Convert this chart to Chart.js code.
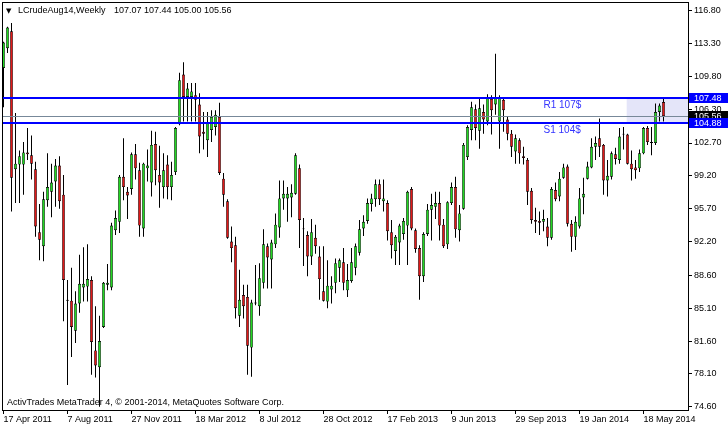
<!DOCTYPE html>
<html><head><meta charset="utf-8">
<script src="https://cdn.jsdelivr.net/npm/chart.js@4/dist/chart.umd.min.js"></script>
<style>html,body{margin:0;padding:0;background:#fff;overflow:hidden}canvas{display:block}</style>
</head><body>
<canvas id="c" width="728" height="428"></canvas>
<script>
// ---- data (weekly candles, index 0 = week of 17 Apr 2011) ----
const opens = [
110.7,112.8,114.6,99.9,100.4,100.4,101.7,101.4,99.9,93.2,
91.7,96.6,97.5,98.6,100.3,97.2,86.0,85.9,82.7,85.6,
87.3,87.4,88.1,80.6,78.8,83.1,87.6,87.3,93.4,94.3,
99.1,97.5,97.8,101.5,99.8,93.6,100.0,98.5,102.6,99.3,
98.0,100.4,98.0,99.6,104.7,110.0,107.6,107.6,107.8,106.8,
103.9,103.0,104.1,104.4,105.5,98.9,96.5,92.2,91.8,84.3,
86.5,86.3,80.9,85.7,85.3,87.8,91.7,90.3,91.9,93.7,
96.8,96.8,96.9,97.3,100.0,93.6,92.9,90.6,92.6,90.6,
86.9,85.8,87.1,87.8,89.4,90.0,87.0,88.0,89.4,91.0,
93.6,94.4,96.2,96.7,98.3,96.5,96.3,93.2,91.2,92.1,
93.0,93.9,97.8,93.4,91.5,88.5,93.0,95.6,95.9,96.3,
94.0,91.9,96.3,98.0,93.4,95.7,101.2,104.1,106.3,104.0,
106.0,105.0,107.4,106.8,105.0,107.3,105.2,103.7,101.8,103.0,
101.3,100.9,97.6,94.5,94.4,94.3,93.8,92.6,97.7,97.0,
99.0,100.2,94.1,92.7,93.8,96.9,98.9,100.1,102.3,103.2,
102.5,98.7,99.1,101.5,100.9,103.6,103.6,100.5,100.1,100.0,
101.6,104.3,102.8,102.7,106.0,107.07];
const highs = [
113.5,115.1,115.5,105.9,101.9,102.8,104.3,103.5,100.7,96.2,
97.5,101.6,100.5,101.0,101.3,99.3,88.1,89.4,86.9,90.8,
91.6,91.9,88.5,85.3,84.3,87.9,89.8,94.2,95.5,99.3,
103.2,98.0,101.7,102.6,100.6,100.6,102.0,104.0,103.9,102.4,
101.6,101.4,100.7,104.4,110.2,111.3,109.1,109.1,109.1,108.0,
106.0,106.0,106.2,106.2,107.0,99.5,96.7,93.8,92.7,89.2,
87.6,87.6,86.0,89.7,89.9,93.5,92.0,92.4,95.2,98.7,
98.7,98.0,98.3,101.6,100.4,94.7,93.3,94.6,94.0,91.7,
91.7,90.2,88.5,90.4,90.4,91.5,89.8,91.5,92.0,94.5,
95.0,96.8,97.3,98.8,98.8,98.8,96.6,94.5,92.9,94.1,
94.7,97.6,98.0,93.6,91.8,93.2,96.2,97.3,97.5,97.5,
94.6,96.5,98.5,99.1,96.1,102.7,104.6,107.1,106.8,107.6,
106.8,107.9,107.8,112.2,107.8,107.6,105.5,104.1,103.6,103.2,
102.3,101.1,97.9,95.8,95.4,95.6,94.7,98.0,98.5,99.6,
100.5,100.4,94.5,94.9,97.9,99.0,100.7,103.2,103.4,105.3,
102.6,100.9,101.8,102.2,104.3,104.4,103.7,101.9,100.9,102.0,
104.4,104.5,104.4,106.9,106.9,107.44];
const lows = [
106.5,112.3,95.4,96.3,96.3,97.2,100.9,98.8,92.7,90.2,
90.1,95.9,94.8,95.9,95.7,83.7,76.9,79.9,81.4,84.6,
85.8,85.8,78.0,77.7,74.6,83.0,87.0,87.0,92.9,93.1,
96.6,94.6,97.2,98.8,92.7,92.7,98.6,97.0,98.2,95.8,
96.8,96.7,96.6,99.3,104.6,105.0,105.0,105.0,105.0,101.6,
102.0,101.2,102.8,103.5,99.3,95.9,92.5,90.0,84.0,83.1,
84.0,78.0,77.8,85.4,84.3,87.2,87.2,87.2,91.5,92.6,
95.6,94.3,94.8,97.2,91.5,89.6,88.5,89.7,90.9,86.0,
85.8,85.1,85.6,86.7,87.9,87.0,86.3,87.8,88.6,90.7,
92.8,94.1,95.4,95.9,96.1,95.4,92.3,90.4,89.7,89.7,
92.4,89.7,93.4,91.0,86.0,87.9,92.8,92.3,94.6,92.3,
91.5,91.4,96.1,92.6,92.2,95.6,100.9,103.0,103.0,102.1,
103.7,104.6,103.6,105.7,102.1,103.9,103.0,101.2,100.5,100.5,
100.4,96.1,94.1,93.1,92.9,93.3,91.7,92.4,96.5,96.5,
98.9,93.8,91.1,91.3,93.6,95.1,98.8,100.0,100.9,101.2,
97.2,97.0,98.8,100.4,100.5,102.0,100.4,98.7,98.9,99.6,
101.5,102.5,101.4,102.5,105.0,105.00];
const closes = [
113.4,115.0,99.0,100.5,101.3,101.7,101.5,100.5,93.8,92.4,
96.7,98.0,98.5,100.3,96.5,88.1,85.9,83.1,85.6,87.7,
87.7,88.2,81.5,79.0,81.6,87.8,87.8,93.9,94.7,99.1,
98.0,97.1,101.5,100.0,93.9,100.5,100.3,102.5,99.8,98.5,
99.8,98.0,99.3,104.3,109.4,107.6,108.5,108.2,107.3,103.4,
103.7,104.8,105.5,105.7,99.5,97.2,92.6,91.5,85.1,86.0,
85.3,81.1,85.7,85.6,88.3,91.9,90.5,92.1,94.0,96.8,
97.3,97.3,97.4,101.4,94.5,93.5,90.6,93.2,91.7,88.2,
85.9,87.5,87.5,89.9,90.2,87.8,88.1,90.0,91.7,93.5,
94.3,96.3,96.8,98.3,96.7,96.8,93.3,91.8,92.7,93.9,
94.4,97.5,93.6,91.4,88.5,93.0,95.6,96.1,96.3,93.9,
91.7,96.4,98.0,93.5,95.2,102.5,104.4,106.5,104.3,106.4,
105.2,107.5,106.2,107.5,107.5,106.2,103.7,102.3,103.2,101.6,
101.1,97.5,94.5,94.3,94.2,94.6,92.6,97.8,96.7,98.9,
100.1,94.1,92.7,94.3,96.8,97.3,100.2,102.3,102.7,102.3,
98.7,99.2,101.6,101.0,103.4,103.7,100.5,99.9,99.8,101.6,
104.3,102.8,102.7,106.0,106.7,105.56];

const xTickIndex  = [0,16,32,48,64,80,96,112,128,144,160];
const xTickLabels = ['17 Apr 2011','7 Aug 2011','27 Nov 2011','18 Mar 2012','8 Jul 2012','28 Oct 2012','17 Feb 2013','9 Jun 2013','29 Sep 2013','19 Jan 2014','18 May 2014'];
const yTickLabels = ['116.80','113.30','109.80','106.30','102.70','99.20','95.70','92.20','88.60','85.10','81.60','78.10','74.60'];

const levelR1 = 107.48, levelS1 = 104.88, bidPrice = 105.56;
const levelR1Label = '107.48', levelS1Label = '104.88', bidLabel = '105.56';
const r1Text = 'R1 107$', s1Text = 'S1 104$';
const textAnchorIndex = 135;
const rectStartIndex = 155.8;
const titleName = 'LCrudeAug14,Weekly';
const titleOHLC = '107.07 107.44 105.00 105.56';
const copyrightText = 'ActivTrades MetaTrader 4, \u00A9 2001-2014, MetaQuotes Software Corp.';

// ---- styling ----
const FONT = "'Liberation Sans', Arial, sans-serif";
const UP = '#22d822', DOWN = '#e01818', BLUE = '#0000ff';

const idx = opens.map((_, i) => i);
const bodyColors = idx.map(i => closes[i] >= opens[i] ? UP : DOWN);

const zeroPad = s => { s.paddingTop = 0; s.paddingBottom = 0; s.paddingLeft = 0; s.paddingRight = 0; };

const overlay = {
  id: 'overlay',
  beforeDatasetsDraw(chart) {
    const {ctx, chartArea: a, scales: {x, y}} = chart;
    ctx.save();
    const x0 = x.getPixelForValue(rectStartIndex);
    const yT = y.getPixelForValue(levelR1), yB = y.getPixelForValue(levelS1);
    ctx.fillStyle = '#e4e5f9';
    ctx.fillRect(x0, yT, a.right - x0, yB - yT);
    ctx.restore();
  },
  afterDatasetsDraw(chart) {
    const {ctx, chartArea: a, scales: {x, y}} = chart;
    ctx.save();
    const yb = Math.floor(y.getPixelForValue(bidPrice)) + 0.5;
    ctx.strokeStyle = '#778899'; ctx.lineWidth = 1;
    ctx.beginPath(); ctx.moveTo(a.left, yb); ctx.lineTo(a.right, yb); ctx.stroke();
    ctx.strokeStyle = BLUE; ctx.lineWidth = 2;
    [levelR1, levelS1].forEach(v => {
      const yy = Math.round(y.getPixelForValue(v));
      ctx.beginPath(); ctx.moveTo(a.left, yy); ctx.lineTo(a.right, yy); ctx.stroke();
    });
    ctx.fillStyle = '#3333ff';
    ctx.font = '10px ' + FONT;
    ctx.textBaseline = 'middle'; ctx.textAlign = 'left';
    const tx = x.getPixelForValue(textAnchorIndex);
    ctx.fillText(r1Text, tx, y.getPixelForValue(levelR1) + 7.5);
    ctx.fillText(s1Text, tx, y.getPixelForValue(levelS1) + 7.5);
    ctx.restore();
  },
  afterDraw(chart) {
    const {ctx, chartArea: a, scales: {y}} = chart;
    ctx.save();
    ctx.strokeStyle = '#000'; ctx.lineWidth = 1;
    ctx.strokeRect(a.left + 0.5, a.top + 0.5, a.right - a.left, a.bottom - a.top);
    ctx.fillStyle = '#000';
    ctx.textBaseline = 'middle'; ctx.textAlign = 'left';
    ctx.font = "7px 'DejaVu Sans', sans-serif";
    ctx.fillText('\u25BC', 6, 11);
    ctx.font = '9px ' + FONT;
    ctx.fillText(titleName, 18, 11);
    ctx.fillText(titleOHLC, 114, 11);
    ctx.fillText(copyrightText, 7, 403);
    const box = (v, label, color) => {
      const yy = y.getPixelForValue(v);
      ctx.fillStyle = color;
      ctx.fillRect(a.right + 1, Math.round(yy) - 5, 728 - a.right - 1, 10);
      ctx.fillStyle = '#fff';
      ctx.font = '9px ' + FONT;
      ctx.fillText(label, a.right + 6, yy + 0.5);
    };
    box(bidPrice, bidLabel, '#000');
    box(levelS1, levelS1Label, BLUE);
    box(levelR1, levelR1Label, BLUE);
    ctx.restore();
  }
};

new Chart(document.getElementById('c'), {
  type: 'bar',
  data: {
    datasets: [
      {
        label: 'wick',
        data: idx.map(i => ({x: i, y: [lows[i], highs[i]]})),
        backgroundColor: '#000', borderWidth: 0,
        grouped: false, barPercentage: 1, categoryPercentage: 1, maxBarThickness: 1,
        inflateAmount: 0, order: 2
      },
      {
        label: 'body',
        data: idx.map(i => ({x: i, y: [opens[i], closes[i]]})),
        backgroundColor: bodyColors, borderColor: '#000', borderWidth: 0.7, borderSkipped: false,
        grouped: false, barPercentage: 1, categoryPercentage: 1, maxBarThickness: 3,
        inflateAmount: 0, order: 1
      }
    ]
  },
  options: {
    responsive: false, animation: false, devicePixelRatio: 1,
    layout: {padding: {left: 2, top: 2, right: 0, bottom: 0}},
    plugins: {legend: {display: false}, tooltip: {enabled: false}},
    scales: {
      x: {
        type: 'linear', min: -0.375, max: 171.125, offset: false,
        border: {display: false},
        grid: {drawOnChartArea: false, drawTicks: true, tickLength: 4, tickColor: '#000', offset: false},
        ticks: {autoSkip: false, maxRotation: 0, minRotation: 0, align: 'start', padding: 0,
                color: '#000', font: {family: FONT, size: 9},
                callback: (v, i) => xTickLabels[i]},
        afterBuildTicks: s => { s.ticks = xTickIndex.map(v => ({value: v})); },
        afterFit: s => { s.height = 18; zeroPad(s); }
      },
      y: {
        type: 'linear', position: 'right', min: 74.249, max: 117.727,
        border: {display: false},
        grid: {drawOnChartArea: false, drawTicks: true, tickLength: 4, tickColor: '#000'},
        ticks: {padding: 2, color: '#000', font: {family: FONT, size: 9}, autoSkip: false,
                callback: (v, i) => yTickLabels[i]},
        afterBuildTicks: s => { s.ticks = yTickLabels.map(t => ({value: parseFloat(t)})); },
        afterFit: s => { s.width = 40; zeroPad(s); }
      }
    }
  },
  plugins: [overlay]
});
</script>
</body></html>
